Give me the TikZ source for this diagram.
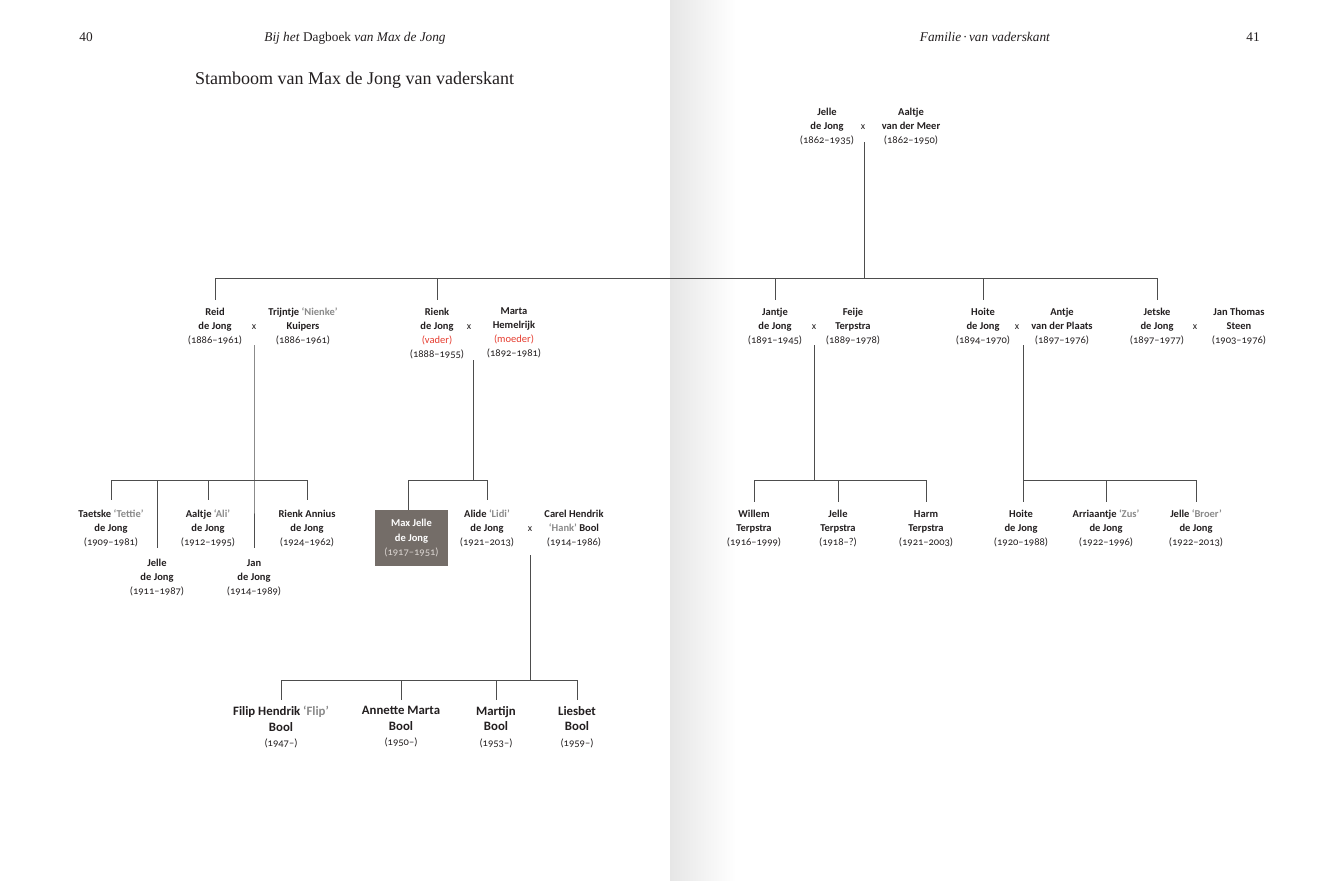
\documentclass[tikz,border=0pt]{standalone}
\usepackage{fontspec}
\newfontfamily\sansf{Carlito}[Numbers=OldStyle]
\newfontfamily\seriff{Liberation Serif}
\usetikzlibrary{calc}
\definecolor{ink}{HTML}{231F20}
\definecolor{nick}{HTML}{8A8A8A}
\definecolor{redv}{HTML}{E63C2F}
\definecolor{boxc}{HTML}{746D68}
\definecolor{boxyr}{HTML}{DCD6D2}
\definecolor{linec}{HTML}{4D4D4D}
\definecolor{gutter}{HTML}{E6E6E6}
\newcommand\nk[1]{{\color{nick}#1}}
\newcommand\yr[1]{{\mdseries #1}}
\newcommand\rd[1]{{\mdseries\color{redv}#1}}
\tikzset{
  pers/.style={align=center, inner sep=0pt, anchor=north, text=ink,
    font=\sansf\fontsize{10.5}{14}\selectfont\bfseries},
  bigpers/.style={pers, font=\sansf\fontsize{12.8}{15.5}\selectfont\bfseries},
  xm/.style={inner sep=0pt, text=ink, font=\sansf\fontsize{10}{12}\selectfont},
  link/.style={draw=linec, line width=0.9pt},
  maxbox/.style={fill=boxc, text=white, align=center, inner sep=0pt,
    minimum width=73.5pt, minimum height=56pt,
    font=\sansf\fontsize{10.5}{14.5}\selectfont\bfseries},
  hdr/.style={inner sep=0pt, text=ink, font=\seriff\fontsize{13.3}{15}\selectfont},
}
\begin{document}
\begin{tikzpicture}[x=1pt,y=-1pt]
\useasboundingbox (0,0) rectangle (1340,880);
\fill[white] (0,0) rectangle (1340,880);
\shade[left color=gutter, right color=white] (670,0) rectangle (736,880);

% headers
\node[hdr, anchor=base] (p40) at (86,42) {40};
\node[hdr, anchor=base] (hl) at (355,42) {\textit{Bij het} Dagboek \textit{van Max de Jong}};
\node[hdr, anchor=base] (hr) at (985,42) {\textit{Familie\,·\,van vaderskant}};
\node[hdr, anchor=base] (p41) at (1253,42) {41};
\node[inner sep=0pt, text=ink, anchor=base west, font=\seriff\fontsize{18}{21}\selectfont] (title) at (195,84.5) {Stamboom van Max de Jong van vaderskant};

% generation 1
\node[pers] (jelle1) at (827,107.5) {Jelle\\de Jong\\\yr{(1862–1935)}};
\node[xm] (x1) at (863,127) {x};
\node[pers] (aaltje1) at (911,107.5) {Aaltje\\van der Meer\\\yr{(1862–1950)}};

% generation 2
\node[pers] (reid) at (215,307.5) {Reid\\de Jong\\\yr{(1886–1961)}};
\node[xm] (xreid) at (254,327) {x};
\node[pers] (trijntje) at (303,307.5) {Trijntje \nk{‘Nienke’}\\Kuipers\\\yr{(1886–1961)}};

\node[pers] (rienk) at (437,307.5) {Rienk\\de Jong\\\rd{(vader)}\\\yr{(1888–1955)}};
\node[xm] (xrienk) at (469,327) {x};
\node[pers] (marta) at (514,307.5) {Marta\\Hemelrijk\\\rd{(moeder)}\\\yr{(1892–1981)}};

\node[pers] (jantje) at (775,307.5) {Jantje\\de Jong\\\yr{(1891–1945)}};
\node[xm] (xjantje) at (814,327) {x};
\node[pers] (feije) at (853,307.5) {Feije\\Terpstra\\\yr{(1889–1978)}};

\node[pers] (hoite) at (983,307.5) {Hoite\\de Jong\\\yr{(1894–1970)}};
\node[xm] (xhoite) at (1017,327) {x};
\node[pers] (antje) at (1062,307.5) {Antje\\van der Plaats\\\yr{(1897–1976)}};

\node[pers] (jetske) at (1157,307.5) {Jetske\\de Jong\\\yr{(1897–1977)}};
\node[xm] (xjetske) at (1195,327) {x};
\node[pers] (janthomas) at (1239,307.5) {Jan Thomas\\Steen\\\yr{(1903–1976)}};

% generation 3
\node[pers] (taetske) at (111,510) {Taetske \nk{‘Tettie’}\\de Jong\\\yr{(1909–1981)}};
\node[pers] (jelle3) at (157,559) {Jelle\\de Jong\\\yr{(1911–1987)}};
\node[pers] (aaltje3) at (208,510) {Aaltje \nk{‘Ali’}\\de Jong\\\yr{(1912–1995)}};
\node[pers] (jan3) at (254,559) {Jan\\de Jong\\\yr{(1914–1989)}};
\node[pers] (rienka) at (307,510) {Rienk Annius\\de Jong\\\yr{(1924–1962)}};

\node[maxbox, anchor=north] (max) at (411.5,510) {Max Jelle\\de Jong\\{\mdseries\color{boxyr}(1917–1951)}};
\node[pers] (alide) at (487,510) {Alide \nk{‘Lidi’}\\de Jong\\\yr{(1921–2013)}};
\node[xm] (xalide) at (530,529) {x};
\node[pers] (carel) at (574,510) {Carel Hendrik\\\nk{‘Hank’} Bool\\\yr{(1914–1986)}};

\node[pers] (willem) at (754,510) {Willem\\Terpstra\\\yr{(1916–1999)}};
\node[pers] (jellet) at (838,510) {Jelle\\Terpstra\\\yr{(1918–?)}};
\node[pers] (harm) at (926,510) {Harm\\Terpstra\\\yr{(1921–2003)}};

\node[pers] (hoite3) at (1021,510) {Hoite\\de Jong\\\yr{(1920–1988)}};
\node[pers] (arria) at (1106,510) {Arriaantje \nk{‘Zus’}\\de Jong\\\yr{(1922–1996)}};
\node[pers] (jelleb) at (1196,510) {Jelle \nk{‘Broer’}\\de Jong\\\yr{(1922–2013)}};

% generation 4
\node[bigpers] (filip) at (281,706) {Filip Hendrik \nk{‘Flip’}\\Bool\\{\mdseries\fontsize{10.5}{14}\selectfont(1947–)}};
\node[bigpers] (annette) at (401,706) {Annette Marta\\Bool\\{\mdseries\fontsize{10.5}{14}\selectfont(1950–)}};
\node[bigpers] (martijn) at (496,706) {Martijn\\Bool\\{\mdseries\fontsize{10.5}{14}\selectfont(1953–)}};
\node[bigpers] (liesbet) at (577,706) {Liesbet\\Bool\\{\mdseries\fontsize{10.5}{14}\selectfont(1959–)}};

% junction coordinates
\coordinate (c1) at (864,142);
\coordinate (b1) at (864,278);
\coordinate (b1l) at (215,278);
\coordinate (b1r) at (1157,278);

\coordinate (creid) at (254,345);
\coordinate (b2) at (254,480);
\coordinate (b2l) at (111,480);
\coordinate (b2r) at (307,480);

\coordinate (crienk) at (473,360);
\coordinate (b3) at (473,480);
\coordinate (b3l) at (408,480);
\coordinate (b3r) at (487,480);

\coordinate (calide) at (530,555);
\coordinate (b4) at (530,680);
\coordinate (b4l) at (281,680);
\coordinate (b4r) at (577,680);

\coordinate (cjantje) at (814,345);
\coordinate (b5) at (814,480);
\coordinate (b5l) at (754,480);
\coordinate (b5r) at (926,480);

\coordinate (choite) at (1023,345);
\coordinate (b6) at (1023,480);
\coordinate (b6r) at (1196,480);

% connectors
\draw[link] (c1) -- (b1);
\draw[link] (b1l) -- (b1r);
\foreach \n in {reid,rienk,jantje,hoite,jetske}
  \draw[link] (\n.north |- b1) -- ([yshift=7.5pt]\n.north);

\draw[link] (creid) -- (b2) -- ([yshift=11pt]jan3.north -| b2);
\draw[link] (b2l) -- (b2r);
\foreach \n in {taetske,aaltje3,rienka}
  \draw[link] (\n.north |- b2) -- ([yshift=10pt]\n.north);
\draw[link] (jelle3.north |- b2) -- ([yshift=11pt]jelle3.north);

\draw[link] (crienk) -- (b3);
\draw[link] (b3l) -- (b3r);
\draw[link] (b3l) -- (max.north -| b3l);
\draw[link] (alide.north |- b3) -- ([yshift=10pt]alide.north);

\draw[link] (calide) -- (b4);
\draw[link] (b4l) -- (b4r);
\foreach \n in {filip,annette,martijn,liesbet}
  \draw[link] (\n.north |- b4) -- ([yshift=6pt]\n.north);

\draw[link] (cjantje) -- (b5);
\draw[link] (b5l) -- (b5r);
\foreach \n in {willem,jellet,harm}
  \draw[link] (\n.north |- b5) -- ([yshift=8pt]\n.north);

\draw[link] (choite) -- (b6) -- ([yshift=8pt]hoite3.north -| b6);
\draw[link] (b6) -- (b6r);
\foreach \n in {arria,jelleb}
  \draw[link] (\n.north |- b6) -- ([yshift=8pt]\n.north);
\end{tikzpicture}
\end{document}
